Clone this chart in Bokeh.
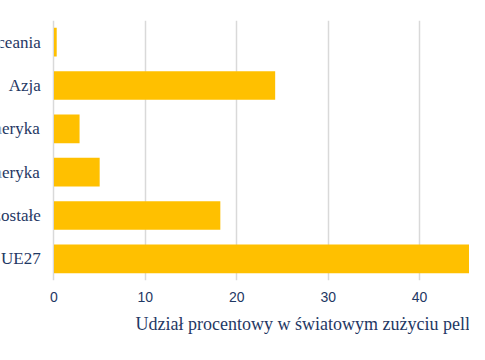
from bokeh.plotting import figure
from bokeh.models import FactorRange, Range1d, FixedTicker, Title, ColumnDataSource
from bokeh.core.properties import value
from bokeh.embed import file_html
from bokeh.resources import INLINE

categories = ["Oceania", "Azja", "Południowa Ameryka", "Północna Ameryka", "Europa pozostałe", "UE27"]
shares = [0.3, 24.2, 2.8, 5.0, 18.2, 49.5]
ticks = [0, 10, 20, 30, 40, 50]
x_title = "Udział procentowy w światowym zużyciu pelletu"

NAVY = "#1F3864"
GOLD = "#FFC000"

cats_rev = list(reversed(categories))

p = figure(width=469, height=344, output_backend="svg", toolbar_location=None,
           y_range=FactorRange(*cats_rev, range_padding=0),
           x_range=Range1d(-5.85, 45.46),
           min_border_left=0, min_border_right=0, min_border_top=20, min_border_bottom=64)

src = ColumnDataSource(dict(cat=categories, val=shares, lx=[-1.45] * len(categories)))
p.hbar(y="cat", right="val", left=0, height=0.66, source=src,
       fill_color=GOLD, line_color=None)

p.text(x="lx", y="cat", text="cat", source=src, text_align="right", text_baseline="middle",
       text_font=value("Liberation Serif"), text_font_size="17px", text_color=NAVY)

p.yaxis.visible = False
p.ygrid.grid_line_color = None
p.xaxis.ticker = FixedTicker(ticks=ticks)
p.xgrid.ticker = FixedTicker(ticks=ticks)
p.xgrid.grid_line_color = "#d9d9d9"
p.xgrid.grid_line_width = 1.5
p.xaxis.axis_line_color = None
p.xaxis.major_tick_line_color = None
p.xaxis.minor_tick_line_color = None
p.xaxis.major_label_standoff = 5
p.xaxis.major_label_text_font = "Liberation Sans"
p.xaxis.major_label_text_font_size = "14px"
p.xaxis.major_label_text_color = NAVY
p.outline_line_color = None

title = Title(text=x_title, align="left", offset=135, standoff=15,
              text_font="Liberation Serif", text_font_size="18px", text_color=NAVY,
              text_font_style="normal")
p.add_layout(title, "below")

open("out.html", "w").write(file_html(p, INLINE))
